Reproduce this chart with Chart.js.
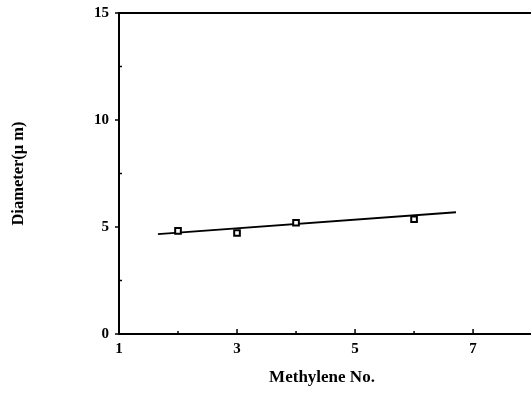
<!DOCTYPE html>
<html><head><meta charset="utf-8">
<script src="https://cdn.jsdelivr.net/npm/chart.js@4"></script>
<style>html,body{margin:0;padding:0;background:#fff}#wrap{width:531px;height:405px}</style>
</head><body><div id="wrap"><canvas id="c" width="531" height="405"></canvas></div>
<script>
const methyleneNo = [2, 3, 4, 6];
const diameter = [4.82, 4.72, 5.2, 5.36];
const fitX = [1.66, 6.71];
const fitY = [4.67, 5.69];
const xLabelTicks = [1, 3, 5, 7];
const yLabelTicks = [0, 5, 10, 15];

const FONT = "'Liberation Serif', 'Times New Roman', serif";

const framePlugin = {
  id: 'frame',
  afterDraw(chart) {
    const ctx = chart.ctx, a = chart.chartArea;
    const xs = chart.scales.x, ys = chart.scales.y;
    ctx.save();
    ctx.strokeStyle = '#000';
    ctx.lineWidth = 2;
    ctx.beginPath();
    ctx.moveTo(a.left, a.top); ctx.lineTo(chart.width, a.top);
    ctx.moveTo(a.right - 1, a.bottom); ctx.lineTo(chart.width, a.bottom);
    ctx.stroke();
    ctx.lineWidth = 1.5;
    xs.ticks.forEach(t => {
      const px = xs.getPixelForValue(t.value);
      const len = xLabelTicks.includes(t.value) ? 5 : 3;
      ctx.beginPath(); ctx.moveTo(px, a.bottom); ctx.lineTo(px, a.bottom - len); ctx.stroke();
    });
    ys.ticks.forEach(t => {
      const py = ys.getPixelForValue(t.value);
      const major = yLabelTicks.includes(t.value);
      ctx.beginPath();
      if (major) { ctx.moveTo(a.left - 4, py); ctx.lineTo(a.left, py); }
      else { ctx.moveTo(a.left, py); ctx.lineTo(a.left + 3, py); }
      ctx.stroke();
    });
    ctx.restore();
  }
};

new Chart(document.getElementById('c'), {
  type: 'scatter',
  data: {
    datasets: [
      {
        type: 'line',
        data: fitX.map((x, i) => ({x, y: fitY[i]})),
        borderColor: '#000', borderWidth: 1.8, pointRadius: 0, fill: false, order: 2
      },
      {
        data: methyleneNo.map((x, i) => ({x, y: diameter[i]})),
        pointStyle: 'rect', pointRadius: 4, borderWidth: 2,
        borderColor: '#000', backgroundColor: '#fff', order: 1
      }
    ]
  },
  plugins: [framePlugin],
  options: {
    responsive: false, animation: false,
    layout: { padding: { top: 13, right: 0, left: 0, bottom: 0 } },
    plugins: { legend: { display: false }, tooltip: { enabled: false } },
    scales: {
      x: {
        type: 'linear', min: 1, max: 7.88,
        afterFit(s) { s.height = 71; },
        afterBuildTicks(s) { s.ticks = [1, 2, 3, 4, 5, 6, 7].map(v => ({ value: v })); },
        ticks: {
          color: '#000', padding: 6,
          font: { family: FONT, size: 15, weight: 'bold' },
          callback: v => xLabelTicks.includes(v) ? String(v) : ''
        },
        grid: { display: true, drawOnChartArea: false, drawTicks: false, color: 'rgba(0,0,0,0)' },
        border: { display: true, color: '#000', width: 2 },
        title: {
          display: true, text: 'Methylene No.', color: '#000',
          font: { family: FONT, size: 17, weight: 'bold' },
          padding: { top: 0, bottom: 17 }
        }
      },
      y: {
        type: 'linear', min: 0, max: 15,
        afterFit(s) { s.width = 119; s.paddingTop = 0; s.paddingBottom = 0; },
        ticks: {
          stepSize: 2.5, color: '#000', padding: 10,
          font: { family: FONT, size: 15, weight: 'bold' },
          callback: v => yLabelTicks.includes(v) ? String(v) : ''
        },
        grid: { display: true, drawOnChartArea: false, drawTicks: false, color: 'rgba(0,0,0,0)' },
        border: { display: true, color: '#000', width: 2 },
        title: {
          display: true, text: 'Diameter(μ m)', color: '#000',
          font: { family: FONT, size: 16.5, weight: 'bold' },
          padding: { top: 9, bottom: 0 }
        }
      }
    }
  }
});
</script>
</body></html>
